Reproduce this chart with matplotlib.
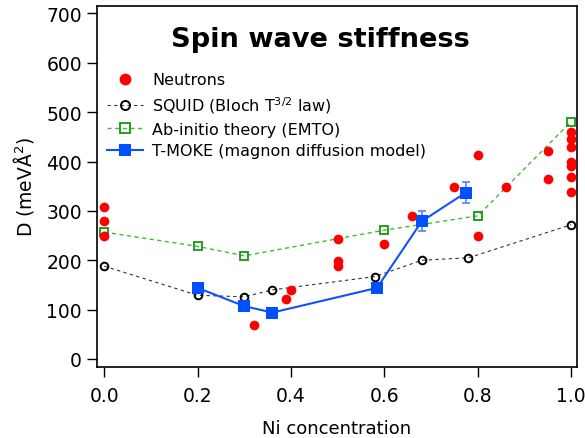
import matplotlib.pyplot as plt

# Neutron scattering data
neutron_x = [0.0, 0.0, 0.0, 0.32, 0.39, 0.40, 0.50, 0.50, 0.50, 0.60, 0.66, 0.75,
             0.80, 0.80, 0.86, 0.95, 0.95, 1.0, 1.0, 1.0, 1.0, 1.0, 1.0, 1.0]
neutron_y = [308, 279, 249, 69, 121, 140, 244, 199, 189, 233, 290, 349,
             249, 414, 348, 422, 364, 460, 445, 429, 399, 390, 369, 339]

# SQUID (Bloch law)
squid_x = [0.0, 0.2, 0.3, 0.36, 0.58, 0.68, 0.78, 1.0]
squid_y = [188, 129, 126, 140, 167, 200, 205, 272]

# Ab-initio (EMTO)
emto_x = [0.0, 0.2, 0.3, 0.6, 0.8, 1.0]
emto_y = [257, 228, 209, 261, 290, 481]

# T-MOKE
moke_x = [0.2, 0.3, 0.36, 0.584, 0.68, 0.774]
moke_y = [144, 107, 94, 144, 279, 337]
moke_err = [0, 0, 0, 0, 20, 22]

fig = plt.figure(figsize=(5.85, 4.39), dpi=100)
ax = fig.add_axes([0.165, 0.162, 0.821, 0.822])

ax.plot(neutron_x, neutron_y, 'o', color='#ff0000', markersize=7,
        markeredgewidth=0, label='Neutrons', zorder=3)
ax.plot(squid_x, squid_y, '--', color='#333333', linewidth=0.8, dashes=(3, 3),
        marker='o', markersize=5.5, markerfacecolor='none', markeredgecolor='black',
        markeredgewidth=1.4, label=r'SQUID (Bloch T$^{3/2}$ law)', zorder=2)
ax.plot(emto_x, emto_y, '--', color='#44bb33', linewidth=1.0, dashes=(3, 2.5),
        marker='s', markersize=5.3, markerfacecolor='none', markeredgecolor='#119911',
        markeredgewidth=1.3, label='Ab-initio theory (EMTO)', zorder=2)
ax.errorbar(moke_x, moke_y, yerr=moke_err, fmt='none', ecolor='#5580ff',
            elinewidth=1.2, capsize=3, capthick=1.2, zorder=3)
ax.plot(moke_x, moke_y, '-', color='#1050ff', linewidth=1.5, marker='s',
        markersize=9, markerfacecolor='#0050ff', markeredgewidth=0,
        label='T-MOKE (magnon diffusion model)', zorder=4)

ax.set_xlim(-0.0167, 1.012)
ax.set_ylim(-16, 715)
ax.set_xticks([0.0, 0.2, 0.4, 0.6, 0.8, 1.0])
ax.set_xticklabels(['0.0', '0.2', '0.4', '0.6', '0.8', '1.0'])
ax.set_yticks(range(0, 701, 100))
ax.tick_params(direction='out', length=7, width=1, labelsize=13.5)
ax.tick_params(axis='x', pad=6.5)
ax.tick_params(axis='y', pad=3.5)
for s in ax.spines.values():
    s.set_linewidth(1.2)

ax.set_xlabel('Ni concentration', fontsize=13, labelpad=10)
ax.set_ylabel('D (meVÅ$^2$)', fontsize=13.5, labelpad=7)

ax.text(0.466, 0.91, 'Spin wave stiffness', transform=ax.transAxes,
        ha='center', va='center', fontsize=19.6, fontweight='heavy')

leg = ax.legend(loc='upper left', bbox_to_anchor=(0.022, 0.816), frameon=False,
                borderpad=0, borderaxespad=0, fontsize=11.5, handlelength=2.25,
                handletextpad=0.56, labelspacing=0.42)
# legend symbols are drawn a bit larger than in the plot
for h, ms in zip(leg.legend_handles, [8.5, 6.5, 6.5, 9]):
    h.set_markersize(ms)

fig.savefig('out.png', dpi=100)
